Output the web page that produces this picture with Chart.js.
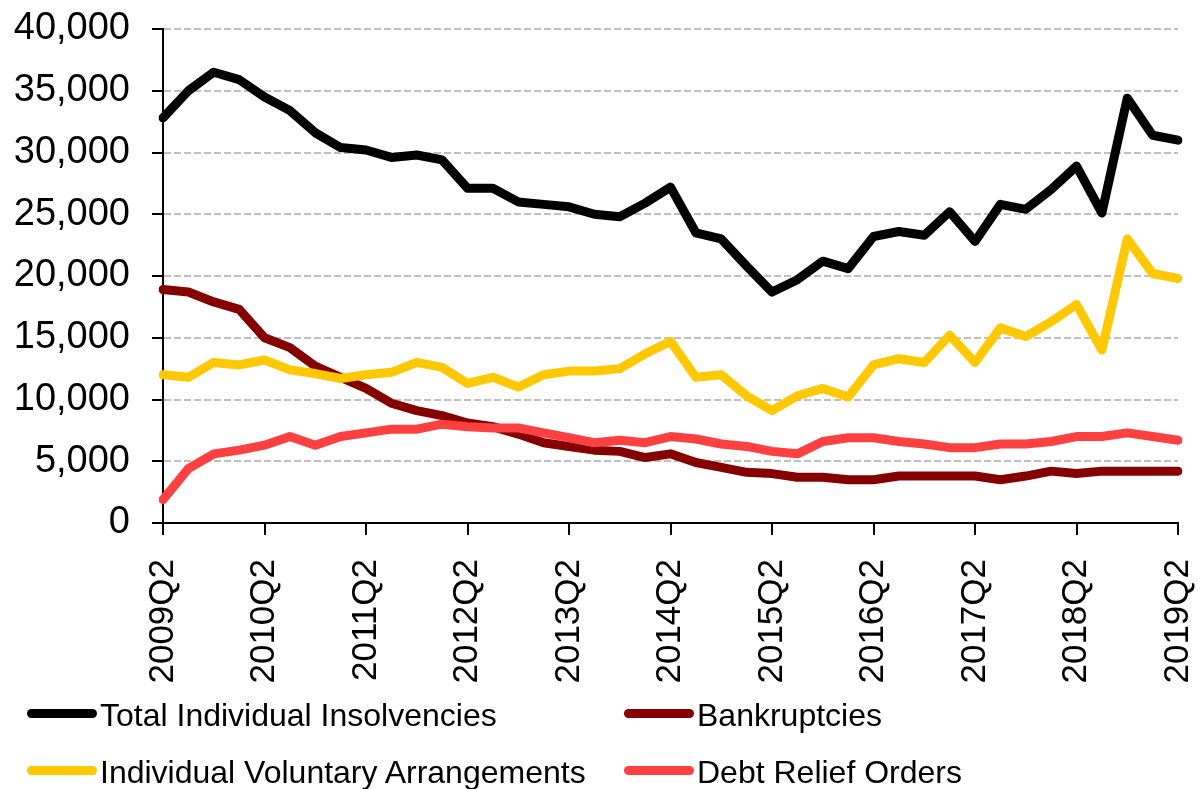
<!DOCTYPE html>
<html>
<head>
<meta charset="utf-8">
<script src="https://cdn.jsdelivr.net/npm/chart.js@4/dist/chart.umd.min.js"></script>
<style>
  html, body { margin: 0; padding: 0; background: #fff; }
  #wrap { position: relative; width: 1203px; height: 789px; overflow: hidden; }
  #c { position: absolute; left: 0; top: 0; }
  .lg { position: absolute; font-family: "Liberation Sans", Arial, sans-serif; font-size: 32px; color: #000; white-space: nowrap; line-height: 1; }
  .sw { position: absolute; height: 9px; border-radius: 5px; }
</style>
</head>
<body>
<div id="wrap">
  <canvas id="c" width="1203" height="789"></canvas>
</div>
<script>
const quarters = ["2009Q2","2009Q3","2009Q4","2010Q1","2010Q2","2010Q3","2010Q4","2011Q1","2011Q2","2011Q3","2011Q4","2012Q1","2012Q2","2012Q3","2012Q4","2013Q1","2013Q2","2013Q3","2013Q4","2014Q1","2014Q2","2014Q3","2014Q4","2015Q1","2015Q2","2015Q3","2015Q4","2016Q1","2016Q2","2016Q3","2016Q4","2017Q1","2017Q2","2017Q3","2017Q4","2018Q1","2018Q2","2018Q3","2018Q4","2019Q1","2019Q2"];

const totalInsolvencies = [32800,35000,36500,35900,34500,33400,31600,30400,30200,29600,29800,29400,27100,27100,26000,25800,25600,25000,24800,25900,27200,23500,23000,20800,18700,19700,21200,20600,23200,23600,23300,25200,22800,25800,25400,27000,28900,25100,34400,31400,31000];
const bankruptcies = [18900,18700,17900,17300,15000,14200,12700,11800,10900,9700,9100,8700,8100,7800,7200,6500,6200,5900,5800,5300,5600,4900,4500,4100,4000,3700,3700,3500,3500,3800,3800,3800,3800,3500,3800,4200,4000,4200,4200,4200,4200];
const ivas = [12000,11800,13000,12800,13200,12400,12100,11700,12000,12200,13000,12600,11300,11800,11000,12000,12300,12300,12500,13700,14700,11800,12000,10300,9100,10300,10900,10200,12800,13300,13000,15200,13000,15800,15100,16300,17700,14000,23000,20200,19800];
const debtReliefOrders = [1900,4400,5600,5900,6300,7000,6300,7000,7300,7600,7600,8000,7800,7700,7700,7300,6900,6500,6700,6500,7000,6800,6400,6200,5800,5600,6600,6900,6900,6600,6400,6100,6100,6400,6400,6600,7000,7000,7300,7000,6700];

const seriesNames = ["Total Individual Insolvencies","Bankruptcies","Individual Voluntary Arrangements","Debt Relief Orders"];
const seriesColors = ["#000000","#850000","#FFC800","#FF4040"];
const seriesData = [totalInsolvencies, bankruptcies, ivas, debtReliefOrders];
const drawOrder = [0, 3, 2, 1];

const yTicks = [0,5000,10000,15000,20000,25000,30000,35000,40000];

const FONT = "'Liberation Sans', Arial, sans-serif";

const datasets = seriesNames.map((n, i) => ({
  label: n,
  data: seriesData[i],
  borderColor: seriesColors[i],
  backgroundColor: seriesColors[i],
  borderWidth: 9,
  pointRadius: 0,
  pointHoverRadius: 0,
  tension: 0,
  fill: false,
  borderJoinStyle: 'round',
  borderCapStyle: 'round',
  order: drawOrder[i]
}));

new Chart(document.getElementById('c'), {
  type: 'line',
  data: { labels: quarters, datasets },
  options: {
    responsive: false,
    animation: false,
    devicePixelRatio: 1,
    layout: { padding: { top: 29, right: 25, bottom: 0, left: 0 } },
    plugins: { legend: { display: false }, tooltip: { enabled: false } },
    scales: {
      x: {
        type: 'category',
        offset: false,
        grid: {
          display: true,
          drawOnChartArea: false,
          drawTicks: true,
          tickLength: 12,
          color: '#000',
          lineWidth: 2
        },
        border: { display: true, color: '#000', width: 2 },
        ticks: {
          autoSkip: false,
          minRotation: 90,
          maxRotation: 90,
          padding: 24,
          color: '#000',
          font: { family: FONT, size: 35 },
          callback: function(val, idx) { return idx % 4 === 0 ? quarters[idx] : null; }
        },
        afterFit: function(scale) {
          scale.height = 789 - 523;
          scale.paddingLeft = 0; scale.paddingRight = 0;
          scale.paddingTop = 0; scale.paddingBottom = 0;
        }
      },
      y: {
        min: 0,
        max: 40000,
        afterBuildTicks: function(scale) { scale.ticks = yTicks.map(v => ({ value: v })); },
        grid: {
          display: true,
          drawOnChartArea: true,
          drawTicks: true,
          tickLength: 11,
          lineWidth: 2,
          color: function(ctx) { return (ctx.tick && ctx.tick.value === 0) ? 'rgba(0,0,0,0)' : '#C0C0C0'; },
          tickColor: '#000',
          tickBorderDash: []
        },
        border: { display: true, color: '#000', width: 2, dash: [7, 3] },
        ticks: {
          padding: 22,
          color: '#000',
          font: { family: FONT, size: 38 },
          callback: function(v) { return Number(v).toLocaleString('en-US'); }
        },
        afterFit: function(scale) {
          scale.width = 163;
          scale.paddingTop = 0; scale.paddingBottom = 0;
          scale.paddingLeft = 0; scale.paddingRight = 0;
        }
      }
    }
  }
});

// Legend (HTML, two columns)
const wrap = document.getElementById('wrap');
const legendPos = [
  { x: 27, y: 713 },
  { x: 624, y: 713 },
  { x: 27, y: 770 },
  { x: 624, y: 770 }
];
seriesNames.forEach((n, i) => {
  const p = legendPos[i];
  const sw = document.createElement('div');
  sw.className = 'sw';
  sw.style.left = p.x + 'px';
  sw.style.top = (p.y - 4.5) + 'px';
  sw.style.width = '70px';
  sw.style.background = seriesColors[i];
  wrap.appendChild(sw);
  const t = document.createElement('div');
  t.className = 'lg';
  t.textContent = n;
  t.style.left = (p.x + 73) + 'px';
  t.style.top = (p.y - 14) + 'px';
  wrap.appendChild(t);
});
</script>
</body>
</html>
